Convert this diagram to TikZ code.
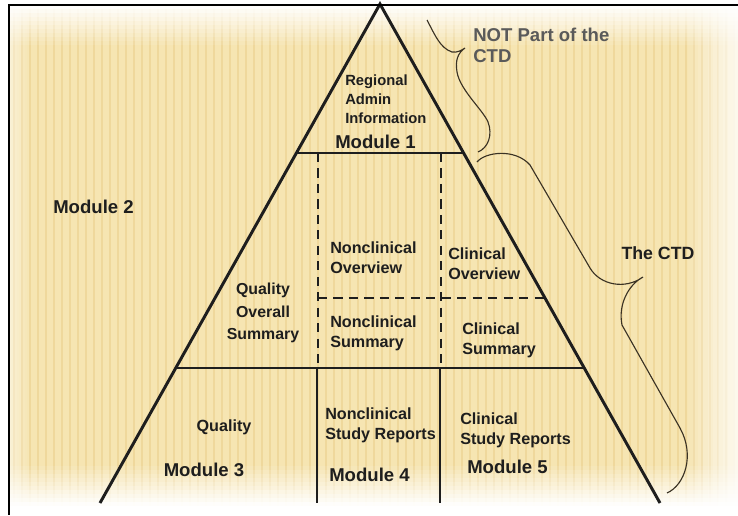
\documentclass[tikz,border=0pt]{standalone}
\usepackage{fontspec}
\setmainfont{Liberation Sans}
\usepackage{xcolor}
\usetikzlibrary{calc}
\definecolor{parchment}{HTML}{F6E5B2}
\definecolor{parchstripe}{HTML}{EFD89C}
\definecolor{inkdark}{HTML}{1E1E1E}
\definecolor{inkgray}{HTML}{5A5A5A}
\definecolor{bracebrown}{HTML}{3A3224}
\tikzset{
  edge/.style={line width=2.1pt, inkdark},
  split/.style={line width=1.6pt, inkdark},
  dsplit/.style={line width=1.7pt, inkdark, dash pattern=on 6.5pt off 4.5pt},
  curly/.style={line width=0.8pt, bracebrown},
  cell/.style={font=\bfseries\fontsize{11.5}{14}\selectfont, text=inkdark, inner sep=0pt},
  modname/.style={font=\bfseries\fontsize{13.2}{15}\selectfont, text=inkdark, inner sep=0pt},
}

\begin{document}
\begin{tikzpicture}[x=0.025cm, y=-0.025cm]
  \useasboundingbox (0,0) rectangle (738,515);
  \fill[white] (0,0) rectangle (738,515);

  % Background
  \fill[parchment] (9,5) rectangle (738,515);
  \foreach \x in {14,22,...,734} {
    \draw[parchstripe, line width=2pt] (\x,5) -- (\x,515);
  }
  \foreach \i [evaluate=\i as \op using 0.95-0.095*\i] in {0,...,9} {
    \fill[white, opacity=\op] (9,5+4*\i) rectangle (738,9+4*\i);
    \fill[white, opacity=\op] (9,506-4*\i) rectangle (738,502-4*\i);
    \fill[white, opacity=0.8*\op] (738-5*\i,5) rectangle (733-5*\i,515);
    \fill[white, opacity=0.5*\op] (9+2*\i,5) rectangle (11+2*\i,515);
  }
  \fill[white] (9,506) rectangle (738,515);

  % Pyramid
  \coordinate (apex) at (380,4);
  \coordinate (bl) at (100,503);
  \coordinate (br) at (660,503);
  \coordinate (m1l) at (297,153);
  \coordinate (m1r) at (463,153);
  \coordinate (m3l) at (177,368);
  \coordinate (m3r) at (583,368);
  \draw[edge] (bl) -- (apex) -- (br);
  \draw[edge] (m1l) -- (m1r);
  \draw[edge] (m3l) -- (m3r);
  \foreach \x in {318,441} {
    \draw[dsplit] (\x,153) -- (\x,368);
  }
  \draw[dsplit] (318,298) -- (544,298);
  \foreach \x in {317,440} {
    \draw[split] (\x,368) -- (\x,503);
  }

  % Frame
  \draw[line width=2pt, black] (8,5) -- (738,5);
  \draw[line width=2pt, black] (9,5) -- (9,515);

  % Labels
  \node[cell, font=\bfseries\fontsize{10.5}{13.5}\selectfont, align=left, anchor=west] (regional) at (345,99) {Regional\\Admin\\Information};
  \node[modname, anchor=west] (mod1) at (335,142) {Module 1};
  \node[modname, anchor=west] (mod2) at (53,207) {Module 2};
  \node[cell, font=\bfseries\fontsize{11.3}{16}\selectfont, align=center] (qos) at (263,313) {Quality\\Overall\\Summary};
  \node[cell, align=left, anchor=west] (ncov) at (330,258) {Nonclinical\\Overview};
  \node[cell, align=left, anchor=west] (clov) at (448,264) {Clinical\\Overview};
  \node[cell, align=left, anchor=west] (ncsum) at (330,333) {Nonclinical\\Summary};
  \node[cell, align=left, anchor=west] (clsum) at (462,340) {Clinical\\Summary};
  \node[cell] (qual) at (224,427) {Quality};
  \node[modname] (mod3) at (204,470) {Module 3};
  \node[cell, align=left, anchor=west] (ncsr) at (325,425) {Nonclinical\\Study Reports};
  \node[modname, anchor=west] (mod4) at (329,475) {Module 4};
  \node[cell, align=left, anchor=west] (clsr) at (460,430) {Clinical\\Study Reports};
  \node[modname, anchor=west] (mod5) at (467,467) {Module 5};
  \node[modname, text=inkgray, align=left, anchor=west] (notctd) at (473,45) {NOT Part of the\\CTD};
  \node[modname, font=\bfseries\fontsize{12.6}{15}\selectfont] (thectd) at (658,253) {The CTD};

  % Braces
  \coordinate (b1top) at (427,20);
  \coordinate (b1tip) at (465,48);
  \coordinate (b1bot) at (478,152);
  \draw[curly] (b1top) .. controls (435,35) and (440,48) .. (452,52)
    .. controls (457,53) and (462,50) .. (b1tip)
    .. controls (458,53) and (455,60) .. (457,72)
    .. controls (460,90) and (483,110) .. (488,122)
    .. controls (493,135) and (488,148) .. (b1bot);
  \coordinate (b2top) at (477,162);
  \coordinate (b2tip) at (643,277);
  \coordinate (b2bot) at (667,493);
  \draw[curly] (b2top) .. controls (485,152) and (515,148) .. (530,165)
    -- (590,268) .. controls (600,285) and (625,290) .. (b2tip)
    .. controls (628,285) and (618,305) .. (622,325)
    -- (680,428) .. controls (695,455) and (685,485) .. (b2bot);
\end{tikzpicture}
\end{document}
